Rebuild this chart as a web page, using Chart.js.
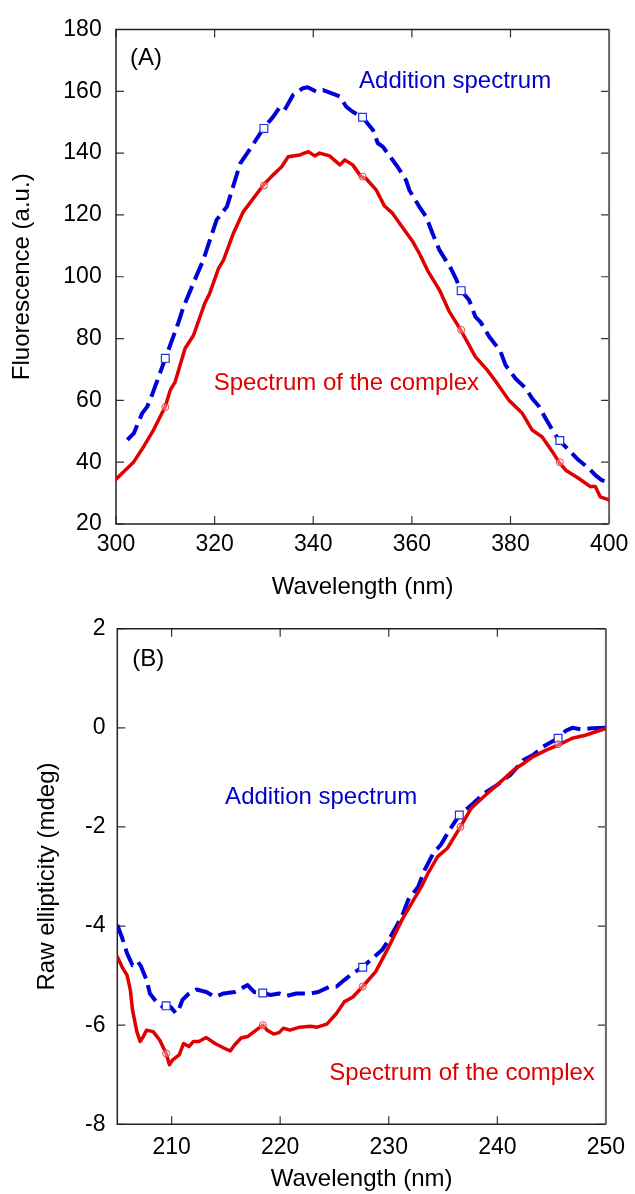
<!DOCTYPE html>
<html><head><meta charset="utf-8">
<script src="https://cdn.jsdelivr.net/npm/chart.js@4.4.1/dist/chart.umd.min.js"></script>
<style>
html,body{margin:0;padding:0;background:#fff;}
#wrapA{position:absolute;left:0;top:0;width:635px;height:600px;}
#wrapB{position:absolute;left:0;top:600px;width:635px;height:594px;}
canvas{display:block;}
</style></head><body>
<div id="wrapA"><canvas id="chartA" width="635" height="600" style="width:635px;height:600px"></canvas></div>
<div id="wrapB"><canvas id="chartB" width="635" height="594" style="width:635px;height:594px"></canvas></div>
<script>
// ---------- Panel A: fluorescence ----------
const aComplexX = [300,303.6,305.6,307.6,310,311,312,314,315.7,318,319,320.8,321.8,323.8,325.8,329.9,331.5,333.6,334.9,337.3,339,340.3,341.3,343.3,345.4,346.4,348,349.7,350.7,352.8,354.4,356.1,357.5,360.2,361.5,363.2,365.6,367.6,369.9,372.9,375.3,377.3,379.7,382.4,384.4,386.4,388.5,389.8,391.2,393.8,396.2,397.2,398.2,400];
const aComplexY = [34.5,40.1,45,50.4,58,63.3,66,76.8,81,91.4,94.6,102.7,105.4,114,121,129.7,132.4,135.6,138.8,139.4,140.5,139.1,140,139.1,136.2,137.8,136.2,132.4,131.8,128,123,120.5,117.3,111.3,107.6,102,95.7,88.7,82.8,74.1,69.8,65.5,60,55.8,50.4,48.2,43.4,40.1,37.4,34.8,32.1,32.1,28.8,27.8];
const aAdditionX = [302.3,303.6,305.3,306.3,307.3,310,311,312.7,313.7,316.4,317.7,320.4,322.5,325.2,327.5,329.9,331.9,333.2,334.2,335.9,337.9,338.9,340.6,342,344.3,345.4,346.7,348,350,352.1,353.1,354.1,355.1,357.1,358.8,359.5,361.5,362.9,364.2,365.6,367.9,368.9,369.9,371.6,372.9,373.9,375.7,377.3,378,379,381,383.1,384.4,385.8,387.1,388.5,389.8,391.8,393.8,395.9,397.2,398.5,400];
const aAdditionY = [47.2,49.3,55.8,57.9,61.7,73.6,77.9,85.4,90.3,100.6,105.4,118.4,122.7,136.7,142.1,148,151.8,154.8,154,158.8,161,161.3,159.9,160.4,159,158.3,155,153.4,151.6,147.5,143.2,142.1,139.9,135.6,131.3,128,122.7,119.4,114,108.6,102.7,99.5,95.7,92.5,87,85.4,80.6,77.3,75.7,71.4,67.1,63.9,60.6,58,54.2,50.4,47.2,44,40.7,38,35.8,34.2,33.4];
const aMarkX = [310,330,350,370,390];
const aComplexMarkY = [57.8,129.5,132.4,82.8,40];
const aAdditionMarkY = [73.6,148,151.6,95.5,47];
const aXTicks = [300,320,340,360,380,400];
const aYTicks = [20,40,60,80,100,120,140,160,180];

// ---------- Panel B: circular dichroism ----------
const bComplexX = [205,205.5,205.9,206.2,206.4,206.8,207.1,207.4,207.7,208.3,208.9,209.5,209.8,210.1,210.7,211.1,211.6,212,212.5,213.2,214,214.9,215.4,215.8,216.4,217,217.6,218.4,218.8,219.4,219.9,220.3,220.9,221.8,222.8,223.4,224.3,225.2,225.9,226.7,227.6,228.8,230,231.2,232.1,233,233.6,234.5,235.4,236.6,237.6,239.1,240.3,241.5,242.4,243.3,244.5,245.6,246.9,248.1,250];
const bComplexY = [-4.62,-4.85,-4.99,-5.29,-5.69,-6.13,-6.33,-6.23,-6.10,-6.13,-6.30,-6.57,-6.80,-6.70,-6.60,-6.37,-6.43,-6.33,-6.33,-6.25,-6.37,-6.47,-6.52,-6.40,-6.26,-6.23,-6.13,-6.0,-6.1,-6.18,-6.15,-6.06,-6.10,-6.04,-6.02,-6.04,-5.98,-5.76,-5.53,-5.43,-5.22,-4.92,-4.42,-3.88,-3.54,-3.21,-2.94,-2.60,-2.43,-2.0,-1.62,-1.32,-1.09,-0.85,-0.72,-0.58,-0.45,-0.35,-0.21,-0.15,-0.01];
const bAdditionX = [205,205.4,205.9,206.4,206.9,207.2,207.7,208,208.6,209.2,209.5,209.9,210.4,210.7,211,211.6,212.3,213.2,214,214.8,215.8,217,217.6,218.4,219.1,219.9,220.6,221.5,222.8,223.5,224.6,225.2,225.9,226.7,227.6,228.5,229.4,230,231.2,231.8,232.7,233.3,234.1,234.8,235.6,236.5,237.6,238.8,240,241.2,242.4,243.3,244.2,245.6,246.3,246.9,247.7,248.7,250];
const bAdditionY = [-3.98,-4.21,-4.55,-4.79,-4.72,-4.82,-5.09,-5.36,-5.53,-5.63,-5.61,-5.63,-5.76,-5.66,-5.49,-5.36,-5.28,-5.33,-5.43,-5.36,-5.33,-5.19,-5.33,-5.35,-5.39,-5.36,-5.41,-5.36,-5.36,-5.33,-5.22,-5.22,-5.09,-4.95,-4.83,-4.65,-4.48,-4.28,-3.81,-3.47,-3.21,-2.87,-2.53,-2.36,-2.06,-1.76,-1.56,-1.32,-1.15,-0.95,-0.65,-0.55,-0.38,-0.21,-0.06,0.0,-0.03,-0.01,0.0];
const bComplexMarkX = [209.5,218.4,227.6,236.6,245.6];
const bComplexMarkY = [-6.57,-6.0,-5.22,-2.0,-0.33];
const bAdditionMarkX = [209.5,218.4,227.6,236.5,245.6];
const bAdditionMarkY = [-5.61,-5.35,-4.83,-1.76,-0.21];
const bXTicks = [210,220,230,240,250];
const bYTicks = [-8,-6,-4,-2,0,2];

const FONT = "'Liberation Sans', Arial, Helvetica, sans-serif";
const RED = '#E00000', BLUE = '#0000D8';

function pts(xs, ys) { return xs.map((x, i) => ({x: x, y: ys[i]})); }

const frameTicks = {
  id: 'frameTicks',
  beforeDatasetsDraw(chart) {
    const {ctx, chartArea: a, scales: {x, y}} = chart;
    const L = 8;
    ctx.save();
    ctx.strokeStyle = '#333';
    ctx.lineWidth = 1.2;
    ctx.beginPath();
    x.ticks.forEach(t => {
      const px = x.getPixelForValue(t.value);
      ctx.moveTo(px, a.bottom); ctx.lineTo(px, a.bottom - L);
      ctx.moveTo(px, a.top); ctx.lineTo(px, a.top + L);
    });
    y.ticks.forEach(t => {
      const py = y.getPixelForValue(t.value);
      ctx.moveTo(a.left, py); ctx.lineTo(a.left + L, py);
      ctx.moveTo(a.right, py); ctx.lineTo(a.right - L, py);
    });
    ctx.stroke();
    ctx.lineWidth = 1.5;
    ctx.strokeStyle = '#222';
    ctx.beginPath();
    ctx.moveTo(a.right, a.top); ctx.lineTo(a.left, a.top); ctx.lineTo(a.left, a.bottom); ctx.lineTo(a.right, a.bottom);
    ctx.stroke();
    ctx.strokeStyle = '#666';
    ctx.lineWidth = 2;
    ctx.beginPath();
    ctx.moveTo(a.right, a.top); ctx.lineTo(a.right, a.bottom);
    ctx.stroke();
    ctx.restore();
  }
};

const notes = {
  id: 'notes',
  afterDatasetsDraw(chart, args, opts) {
    const {ctx, scales: {x, y}} = chart;
    ctx.save();
    ctx.font = '24px ' + FONT;
    ctx.textAlign = 'left';
    ctx.textBaseline = 'alphabetic';
    (opts.items || []).forEach(it => {
      ctx.fillStyle = it.color;
      ctx.fillText(it.text, x.getPixelForValue(it.x), y.getPixelForValue(it.y));
    });
    ctx.restore();
  }
};

function makeChart(id, c) {
  return new Chart(document.getElementById(id), {
    type: 'line',
    data: {
      datasets: [
        {label: 'Spectrum of the complex (markers)', data: pts(c.cmX, c.cmY), showLine: false,
         pointStyle: 'circle', pointRadius: 3.5, pointBorderWidth: 1, borderColor: '#E84040',
         pointBorderColor: '#E84040', pointBackgroundColor: 'rgba(255,255,255,0.35)', backgroundColor: 'rgba(255,255,255,0.35)'},
        {label: 'Addition spectrum (markers)', data: pts(c.amX, c.amY), showLine: false,
         pointStyle: 'rect', pointRadius: 5.5, pointBorderWidth: 1.2, borderColor: '#2030E0',
         pointBorderColor: '#2030E0', pointBackgroundColor: '#ffffff', backgroundColor: '#ffffff'},
        {label: 'Spectrum of the complex', data: pts(c.cX, c.cY), borderColor: RED,
         borderWidth: 3.5, pointRadius: 0, tension: 0, fill: false, borderJoinStyle: 'round', borderCapStyle: 'round'},
        {label: 'Addition spectrum', data: pts(c.aX, c.aY), borderColor: BLUE,
         borderWidth: 4, borderDash: [18, 7], pointRadius: 0, tension: 0, fill: false, borderJoinStyle: 'round'}
      ]
    },
    plugins: [frameTicks, notes],
    options: {
      responsive: false,
      devicePixelRatio: 1,
      animation: false,
      events: [],
      layout: {padding: {top: c.padTop, right: c.padRight, left: 0, bottom: 0}},
      plugins: {legend: {display: false}, tooltip: {enabled: false}, notes: {items: c.notes}},
      scales: {
        x: {
          type: 'linear', position: 'bottom', min: c.xMin, max: c.xMax,
          afterBuildTicks: s => { s.ticks = c.xTicks.map(v => ({value: v})); },
          afterFit: s => { s.height = c.xAxisH; },
          grid: {display: false, drawTicks: false, tickLength: 0},
          border: {display: false},
          ticks: {color: '#000', font: {family: FONT, size: 23}, padding: c.xTickPad, maxRotation: 0, autoSkip: false},
          title: {display: true, text: 'Wavelength (nm)', color: '#000',
                  font: {family: FONT, size: 24, lineHeight: 1.0}, padding: {top: 0, bottom: c.xTitlePad}}
        },
        y: {
          type: 'linear', position: 'left', min: c.yMin, max: c.yMax,
          afterBuildTicks: s => { s.ticks = c.yTicks.map(v => ({value: v})); },
          afterFit: s => { s.width = c.yAxisW; },
          grid: {display: false, drawTicks: false, tickLength: 0},
          border: {display: false},
          ticks: {color: '#000', font: {family: FONT, size: 23}, padding: c.yTickPad, autoSkip: false},
          title: {display: true, text: c.yTitle, color: '#000',
                  font: {family: FONT, size: 24, lineHeight: 1.2}, padding: {top: c.yTitlePad, bottom: 0}}
        }
      }
    }
  });
}

makeChart('chartA', {
  cX: aComplexX, cY: aComplexY, aX: aAdditionX, aY: aAdditionY,
  cmX: aMarkX, cmY: aComplexMarkY, amX: aMarkX, amY: aAdditionMarkY,
  xMin: 300, xMax: 400, yMin: 20, yMax: 180, xTicks: aXTicks, yTicks: aYTicks,
  padTop: 29.5, padRight: 24, xAxisH: 76, yAxisW: 116,
  xTickPad: 6.7, yTickPad: 14.3, xTitlePad: 1, yTitlePad: 7.6,
  yTitle: 'Fluorescence (a.u.)',
  notes: [
    {text: '(A)', x: 302.83, y: 168.5, color: '#000'},
    {text: 'Addition spectrum', x: 349.3, y: 161.2, color: '#0000CC'},
    {text: 'Spectrum of the complex', x: 319.8, y: 63.35, color: '#E00000'}
  ]
});

makeChart('chartB', {
  cX: bComplexX, cY: bComplexY, aX: bAdditionX, aY: bAdditionY,
  cmX: bComplexMarkX, cmY: bComplexMarkY, amX: bAdditionMarkX, amY: bAdditionMarkY,
  xMin: 205, xMax: 250, yMin: -8, yMax: 2, xTicks: bXTicks, yTicks: bYTicks,
  padTop: 28.7, padRight: 20.7, xAxisH: 69.7, yAxisW: 117.3,
  xTickPad: 9.9, yTickPad: 11.8, xTitlePad: 2.5, yTitlePad: 33.1,
  yTitle: 'Raw ellipticity (mdeg)',
  notes: [
    {text: '(B)', x: 206.38, y: 1.257, color: '#000'},
    {text: 'Addition spectrum', x: 214.93, y: -1.547, color: '#0000CC'},
    {text: 'Spectrum of the complex', x: 224.53, y: -7.106, color: '#E00000'}
  ]
});
</script>
</body></html>
